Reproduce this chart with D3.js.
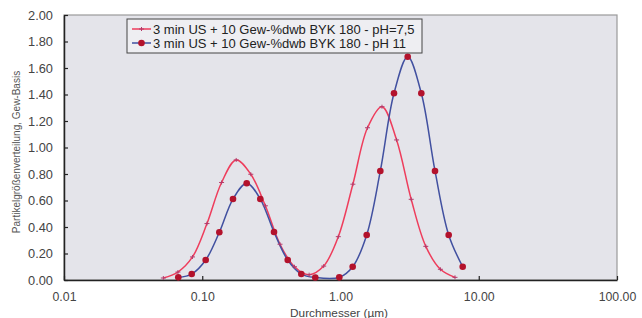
<!DOCTYPE html>
<html><head><meta charset="utf-8">
<script src="https://cdn.jsdelivr.net/npm/d3@7"></script>
<style>
html,body{margin:0;padding:0;background:#fff;}
svg{display:block;font-family:"Liberation Sans",Arial,sans-serif;}
</style></head>
<body>
<svg id="chart" width="642" height="318"></svg>
<script>
// ---- data ----
const seriesNames = ["3 min US + 10 Gew-%dwb BYK 180 - pH=7,5", "3 min US + 10 Gew-%dwb BYK 180 - pH 11"];
const xTicks = [0.01, 0.1, 1, 10, 100];
const yTicks = [0, 0.2, 0.4, 0.6, 0.8, 1.0, 1.2, 1.4, 1.6, 1.8, 2.0];
const xTitle = "Durchmesser (µm)";
const yTitle = "Partikelgrößenverteilung, Gew-Basis";

const sizesA = [0.0523, 0.0667, 0.0850, 0.1082, 0.1380, 0.1760, 0.2245, 0.2862, 0.3651, 0.4648, 0.5929,
                0.7558, 0.9641, 1.229, 1.568, 1.996, 2.545, 3.246, 4.140, 5.280, 6.733];
const valuesA = [0.015, 0.06, 0.174, 0.426, 0.736, 0.906, 0.798, 0.56, 0.27, 0.10, 0.04,
                 0.105, 0.327, 0.723, 1.149, 1.308, 1.057, 0.609, 0.254, 0.081, 0.02];

const sizesB = [0.0671, 0.0839, 0.1059, 0.1329, 0.1669, 0.2097, 0.2630, 0.3304, 0.4151, 0.5206, 0.6572,
                0.980, 1.225, 1.547, 1.941, 2.438, 3.063, 3.842, 4.826, 6.061, 7.654];
const valuesB = [0.02, 0.045, 0.151, 0.36, 0.611, 0.73, 0.611, 0.362, 0.151, 0.045, 0.019,
                 0.02, 0.10, 0.34, 0.823, 1.409, 1.685, 1.409, 0.823, 0.34, 0.10];

// ---- layout ----
const svg = d3.select("#chart");
const L = 64, R = 617, T = 15, B = 280;
const x = d3.scaleLog().domain([0.01, 100]).range([L, R]);
const y = d3.scaleLinear().domain([0, 2]).range([B, T]);

svg.append("rect").attr("x", L).attr("y", T).attr("width", R - L).attr("height", B - T)
  .attr("fill", "#e4e4ea").attr("stroke", "#9a9a9a").attr("stroke-width", 1.2);

// axes
const yAxis = d3.axisLeft(y).tickValues(yTicks).tickFormat(d3.format(".2f")).tickSizeInner(-4).tickSizeOuter(0).tickPadding(11);
const gy = svg.append("g").attr("transform", `translate(${L},0)`).call(yAxis);
const xAxis = d3.axisBottom(x).tickValues(xTicks).tickFormat(d3.format(".2f")).tickSizeInner(-4).tickSizeOuter(0).tickPadding(12);
const gx = svg.append("g").attr("transform", `translate(0,${B})`).call(xAxis);
[gx, gy].forEach(g => {
  g.select(".domain").attr("stroke", "#222").attr("stroke-width", 1.5);
  g.selectAll(".tick line").attr("stroke", "#222").attr("stroke-width", 1.2);
  g.selectAll(".tick text").attr("fill", "#444")
    .attr("font-family", "'Liberation Sans',Arial,sans-serif");
});
gy.selectAll(".tick text").attr("font-size", 12.8);
gx.selectAll(".tick text").attr("font-size", 12.3);

svg.append("text").attr("x", 339).attr("y", 316.5).attr("text-anchor", "middle")
  .attr("font-size", 11.8).attr("fill", "#444").text(xTitle);
svg.append("text").attr("transform", "translate(20,152) rotate(-90)").attr("text-anchor", "middle")
  .attr("font-size", 10).attr("fill", "#555").text(yTitle);

// lines
const line = d3.line().x(d => x(d[0])).y(d => y(d[1])).curve(d3.curveCatmullRom.alpha(0.5));
const dataA = sizesA.map((s, i) => [s, valuesA[i]]);
const dataB = sizesB.map((s, i) => [s, valuesB[i]]);
const colA = "#ee3d5c", colB = "#4150a0", markA = "#b43a6a", markB = "#b3122c";

svg.append("path").datum(dataA).attr("d", line).attr("fill", "none").attr("stroke", colA).attr("stroke-width", 1.5);
svg.append("path").datum(dataB).attr("d", line).attr("fill", "none").attr("stroke", colB).attr("stroke-width", 1.5);

function plus(g, cx, cy) {
  g.append("path").attr("d", `M${cx - 2.5},${cy}H${cx + 2.5}M${cx},${cy - 2}V${cy + 2}`)
    .attr("stroke", markA).attr("stroke-width", 1);
}
const gA = svg.append("g");
dataA.forEach(d => plus(gA, x(d[0]), y(d[1])));
svg.append("g").selectAll("circle").data(dataB).join("circle")
  .attr("cx", d => x(d[0])).attr("cy", d => y(d[1])).attr("r", 3.3).attr("fill", markB);

// legend
const lg = svg.append("g");
lg.append("rect").attr("x", 127).attr("y", 19).attr("width", 295).attr("height", 34)
  .attr("fill", "#eeeef2").attr("stroke", "#444").attr("stroke-width", 1);
const rows = [
  {name: seriesNames[0], col: colA, y: 29, mark: "plus"},
  {name: seriesNames[1], col: colB, y: 43, mark: "circle"}
];
rows.forEach(r => {
  lg.append("line").attr("x1", 132).attr("x2", 151).attr("y1", r.y).attr("y2", r.y)
    .attr("stroke", r.col).attr("stroke-width", 1.5);
  if (r.mark === "plus") plus(lg, 141.5, r.y);
  else lg.append("circle").attr("cx", 141.5).attr("cy", r.y).attr("r", 3.3).attr("fill", markB);
  lg.append("text").attr("x", 153).attr("y", r.y + 4.5).attr("font-size", 13).attr("fill", "#222").text(r.name);
});
</script>
</body></html>
